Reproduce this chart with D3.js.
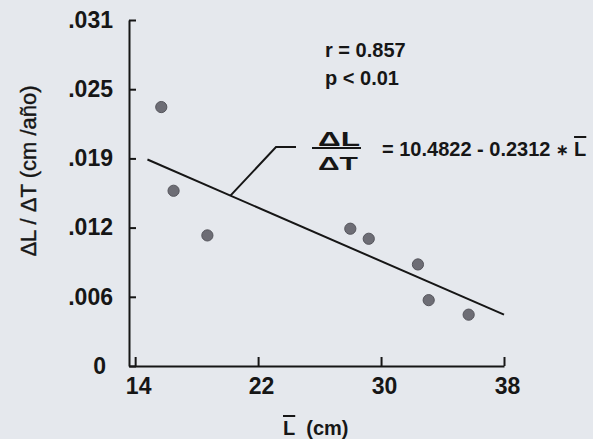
<html>
<head>
<meta charset="utf-8">
<title>Delta L / Delta T vs L</title>
<script src="https://cdnjs.cloudflare.com/ajax/libs/d3/7.8.5/d3.min.js"></script>
<style>
	body, html { margin: 0; overflow: hidden; background: #e5e8ed; }
	text { font-family: "Liberation Sans", Arial, sans-serif; fill: #161616; }
	.axis path, .axis line { stroke: #161616; stroke-width: 2; }
	.axis text { font-size: 23px; font-weight: bold; }
	.dot { fill: #6d6d75; stroke: #55555c; stroke-width: 1; }
	.fit { stroke: #161616; stroke-width: 2; fill: none; }
</style>
</head>
<body>
<div id="chart"></div>
<script>
	// width and height
	var w = 593, h = 439;

	// data
	var lengthCm = [15.7, 16.5, 18.7, 28.0, 29.2, 32.4, 33.1, 35.7];
	var growth = [0.0232, 0.0157, 0.0117, 0.0123, 0.0114, 0.0091, 0.0059, 0.0046];
	// fitted line end points
	var fitX = [14.8, 38];
	var fitY = [0.0185, 0.0046];
	var xTicks = [14, 22, 30, 38];
	var yTicks = [0, 0.0062, 0.0124, 0.0186, 0.0248, 0.031];
	var statLines = ["r = 0.857", "p < 0.01"];

	var x = d3.scaleLinear().domain([13.6, 38]).range([129, 504]);
	var y = d3.scaleLinear().domain([0, 0.031]).range([366, 20]);

	var svg = d3.select("#chart").append("svg")
		.attr("width", w)
		.attr("height", h);

	svg.append("rect").attr("width", w).attr("height", h).attr("fill", "#e5e8ed");

	// y axis, ticks inward
	var fmt = d3.format(".3f");
	svg.append("g")
		.attr("class", "axis")
		.attr("transform", "translate(" + x.range()[0] + ",0)")
		.call(d3.axisLeft(y)
			.tickValues(yTicks)
			.tickSizeInner(-7)
			.tickSizeOuter(0)
			.tickPadding(16)
			.tickFormat(function (d) {
				return d === 0 ? "0" : fmt(d).replace(/^0/, "");
			}))
		.selectAll(".tick text")
		.attr("dx", function (d) { return d === 0 ? -7 : 0; });

	// x axis, ticks upward
	svg.append("g")
		.attr("class", "axis")
		.attr("transform", "translate(0," + y(0) + ")")
		.call(d3.axisBottom(x)
			.tickValues(xTicks)
			.tickSizeInner(-9)
			.tickSizeOuter(0))
		.selectAll(".tick text")
		.attr("y", 12).attr("dx", 3);

	// regression line
	var line = d3.line()
		.x(function (d) { return x(d[0]); })
		.y(function (d) { return y(d[1]); });
	svg.append("path")
		.attr("class", "fit")
		.attr("d", line(d3.zip(fitX, fitY)));

	// leader from the line to the equation
	var lx = 20.2;
	var ly = d3.scaleLinear().domain(fitX).range(fitY)(lx);
	svg.append("path")
		.attr("class", "fit")
		.attr("stroke-width", 1.8)
		.attr("d", "M" + x(lx) + "," + y(ly) + "L276,147L296,147");

	// points
	svg.append("g").selectAll("circle")
		.data(d3.zip(lengthCm, growth))
		.enter().append("circle")
		.attr("class", "dot")
		.attr("cx", function (d) { return x(d[0]); })
		.attr("cy", function (d) { return y(d[1]); })
		.attr("r", 5.6);

	// r and p
	svg.append("g").selectAll("text")
		.data(statLines)
		.enter().append("text")
		.attr("x", 325)
		.attr("y", function (d, i) { return 57 + i * 28; })
		.attr("font-size", 20)
		.attr("font-weight", "bold")
		.text(function (d) { return d; });

	// equation
	var eq = svg.append("g").attr("font-weight", "bold");
	eq.append("text").attr("x", 318).attr("y", 146)
		.attr("font-size", 21).attr("textLength", 42).attr("lengthAdjust", "spacingAndGlyphs").text("ΔL");
	eq.append("line").attr("x1", 312).attr("x2", 361).attr("y1", 148).attr("y2", 148)
		.attr("stroke", "#161616").attr("stroke-width", 2);
	eq.append("text").attr("x", 318).attr("y", 170)
		.attr("font-size", 19).attr("textLength", 40).attr("lengthAdjust", "spacingAndGlyphs").text("ΔT");
	var eqText = eq.append("text").attr("x", 382).attr("y", 156).attr("font-size", 20);
	eqText.append("tspan").text("= 10.4822 - 0.2312 ");
	eqText.append("tspan").attr("font-size", 15).attr("dy", -1).text("∗");
	eqText.append("tspan").attr("dy", 1).attr("dx", 5).style("text-decoration", "overline").text("L");

	// axis titles
	svg.append("text")
		.attr("transform", "translate(36,171) rotate(-90)")
		.attr("text-anchor", "middle")
		.attr("font-size", 22)
		.attr("stroke", "#161616")
		.attr("stroke-width", 0.4)
		.text("ΔL / ΔT (cm /año)");

	var xt = svg.append("text")
		.attr("x", 283)
		.attr("y", 435)
		.attr("font-size", 20)
		.attr("font-weight", "bold");
	xt.append("tspan").style("text-decoration", "overline").text("L");
	xt.append("tspan").attr("dx", 11).text("(cm)");
</script>
</body>
</html>
